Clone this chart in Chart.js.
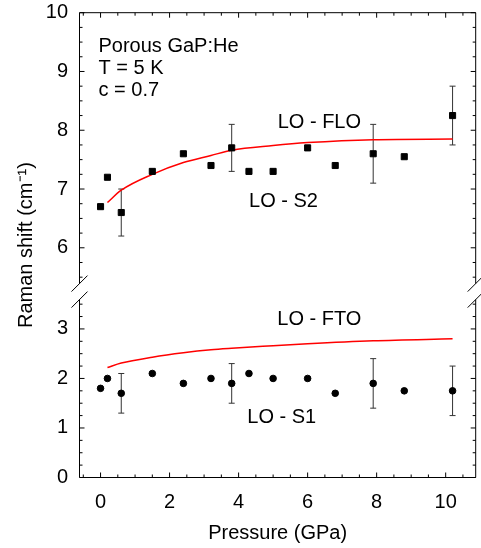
<!DOCTYPE html>
<html>
<head>
<meta charset="utf-8">
<script src="https://cdn.jsdelivr.net/npm/chart.js@4.4.0/dist/chart.umd.min.js"></script>
<style>html,body{margin:0;padding:0;background:#fff}canvas{display:block}</style>
</head>
<body>
<canvas id="chart" width="481" height="548"></canvas>
<script>
// measured points (pressure in GPa, shift in cm-1)
var pressure = [0, 0.2, 0.6, 1.5, 2.4, 3.2, 3.8, 4.3, 5.0, 6.0, 6.8, 7.9, 8.8, 10.2];
var shiftS2 = [6.7, 7.2, 6.6, 7.3, 7.6, 7.4, 7.7, 7.3, 7.3, 7.7, 7.4, 7.6, 7.55, 8.25];
var errS2 = [null, null, 0.4, null, null, null, 0.4, null, null, null, null, 0.5, null, 0.5];
var shiftS1 = [1.8, 2.0, 1.7, 2.1, 1.9, 2.0, 1.9, 2.1, 2.0, 2.0, 1.7, 1.9, 1.75, 1.75];
var errS1 = [null, null, 0.4, null, null, null, 0.4, null, null, null, null, 0.5, null, 0.5];

// calculated curves
var curvePressure = [0.2, 0.6, 1.5, 2.4, 3.2, 3.8, 5.0, 6.0, 7.9, 10.2];
var curveFLO = [6.77, 6.98, 7.25, 7.45, 7.57, 7.66, 7.74, 7.79, 7.84, 7.85];
var curveFTO = [2.22, 2.31, 2.43, 2.52, 2.58, 2.61, 2.66, 2.70, 2.76, 2.80];

var xTicks = [0, 2, 4, 6, 8, 10];
var yTopTicks = [6, 7, 8, 9, 10];
var yBotTicks = [0, 1, 2, 3];

var FONT = '"Liberation Sans", Arial, Helvetica, sans-serif';

function pts(xs, ys) {
    return xs.map(function (x, i) { return { x: x, y: ys[i] }; });
}

// text labels in data coordinates
var notes = [
    { text: 'Porous GaP:He', x: -0.06, y: 9.337, axis: 'yTop', align: 'left' },
    { text: 'T = 5 K', x: -0.06, y: 8.965, axis: 'yTop', align: 'left' },
    { text: 'c = 0.7', x: -0.06, y: 8.59, axis: 'yTop', align: 'left' },
    { text: 'LO - FLO', x: 6.34, y: 8.034, axis: 'yTop', align: 'center' },
    { text: 'LO - S2', x: 5.30, y: 6.70, axis: 'yTop', align: 'center' },
    { text: 'LO - FTO', x: 6.34, y: 3.08, axis: 'yBot', align: 'center' },
    { text: 'LO - S1', x: 5.25, y: 1.095, axis: 'yBot', align: 'center' }
];

var errorSets = [
    { values: shiftS2, errs: errS2, axis: 'yTop' },
    { values: shiftS1, errs: errS1, axis: 'yBot' }
];

function line(ctx, x1, y1, x2, y2) {
    ctx.beginPath();
    ctx.moveTo(x1, y1);
    ctx.lineTo(x2, y2);
    ctx.stroke();
}

var framePlugin = {
    id: 'frame',
    beforeDatasetsDraw: function (chart) {
        var ctx = chart.ctx, xs = chart.scales.x;
        ctx.save();
        ctx.strokeStyle = '#333';
        ctx.lineWidth = 1;
        errorSets.forEach(function (s) {
            var ys = chart.scales[s.axis];
            s.errs.forEach(function (e, i) {
                if (e == null) return;
                var px = xs.getPixelForValue(pressure[i]);
                var hi = ys.getPixelForValue(s.values[i] + e);
                var lo = ys.getPixelForValue(s.values[i] - e);
                line(ctx, px, hi, px, lo);
                line(ctx, px - 3, hi, px + 3, hi);
                line(ctx, px - 3, lo, px + 3, lo);
            });
        });
        ctx.restore();
    },
    afterDraw: function (chart) {
        var ctx = chart.ctx, a = chart.chartArea;
        var xs = chart.scales.x, yt = chart.scales.yTop, yb = chart.scales.yBot;
        var L = a.left, R = a.right, T = a.top, B = a.bottom;
        var mid = yt.bottom, g = 8;
        ctx.save();
        ctx.strokeStyle = '#000';
        ctx.lineWidth = 1;
        line(ctx, L, T, R, T);
        line(ctx, L, B, R, B);
        // side borders with axis-break marks
        [L, R].forEach(function (xx) {
            line(ctx, xx, T, xx, mid - g);
            line(ctx, xx, mid + g, xx, B);
            line(ctx, xx - g, mid, xx + g, mid - 2 * g);
            line(ctx, xx - g, mid + 2 * g, xx + g, mid);
        });
        // inward ticks
        var v, p, len;
        for (v = -0.5; v <= 10.5; v += 0.5) {
            p = xs.getPixelForValue(v);
            len = (v % 2 === 0) ? 5 : 3;
            line(ctx, p, B, p, B - len);
            line(ctx, p, T, p, T + len);
        }
        for (v = 5.5; v <= 10; v += 0.25) {
            p = yt.getPixelForValue(v);
            len = (v % 1 === 0) ? 5 : 3;
            line(ctx, L, p, L + len, p);
            line(ctx, R, p, R - len, p);
        }
        for (v = 0; v <= 3.5; v += 0.25) {
            p = yb.getPixelForValue(v);
            len = (v % 1 === 0) ? 5 : 3;
            line(ctx, L, p, L + len, p);
            line(ctx, R, p, R - len, p);
        }
        ctx.fillStyle = '#000';
        ctx.font = '20px ' + FONT;
        ctx.textBaseline = 'alphabetic';
        notes.forEach(function (n) {
            ctx.textAlign = n.align;
            ctx.fillText(n.text, xs.getPixelForValue(n.x), chart.scales[n.axis].getPixelForValue(n.y));
        });
        ctx.restore();
    }
};

function setTicks(list) {
    return function (scale) {
        scale.ticks = list.map(function (v) { return { value: v }; });
    };
}

function fitY(width) {
    return function (s) {
        s.width = width;
        s.paddingTop = 0;
        s.paddingBottom = 0;
    };
}

var tickFont = { family: FONT, size: 20 };

var ctx = document.getElementById('chart').getContext('2d');
var chart = new Chart(ctx, {
    type: 'scatter',
    data: {
        datasets: [{
            label: 'LO - S2',
            data: pts(pressure, shiftS2),
            yAxisID: 'yTop',
            pointStyle: 'rect',
            pointRadius: 4.3,
            backgroundColor: '#000',
            borderColor: '#000',
            borderWidth: 1
        },
        {
            label: 'LO - FLO',
            data: pts(curvePressure, curveFLO),
            yAxisID: 'yTop',
            showLine: true,
            pointRadius: 0,
            borderColor: '#ff0000',
            borderWidth: 1.5,
            cubicInterpolationMode: 'monotone'
        },
        {
            label: 'LO - S1',
            data: pts(pressure, shiftS1),
            yAxisID: 'yBot',
            pointStyle: 'circle',
            pointRadius: 3.3,
            backgroundColor: '#000',
            borderColor: '#000',
            borderWidth: 1
        },
        {
            label: 'LO - FTO',
            data: pts(curvePressure, curveFTO),
            yAxisID: 'yBot',
            showLine: true,
            pointRadius: 0,
            borderColor: '#ff0000',
            borderWidth: 1.5,
            cubicInterpolationMode: 'monotone'
        }]
    },
    options: {
        responsive: false,
        animation: false,
        layout: { padding: { left: 0, right: 4.3, top: 12.7, bottom: 0 } },
        plugins: { legend: { display: false }, tooltip: { enabled: false } },
        scales: {
            x: {
                type: 'linear',
                position: 'bottom',
                min: -0.61,
                max: 10.87,
                afterBuildTicks: setTicks(xTicks),
                afterFit: function (s) {
                    s.height = 70.5;
                    s.paddingLeft = 0;
                    s.paddingRight = 0;
                },
                grid: { display: false, drawTicks: false },
                border: { display: false },
                ticks: { font: tickFont, color: '#000', padding: 12.5, maxRotation: 0 },
                title: { display: true, text: 'Pressure (GPa)', font: tickFont, color: '#000', padding: { top: 10, bottom: 3 } }
            },
            yBot: {
                type: 'linear',
                position: 'left',
                stack: 'y',
                stackWeight: 186,
                weight: 0,
                min: 0,
                max: 3.754,
                afterBuildTicks: setTicks(yBotTicks),
                afterFit: fitY(39.5),
                grid: { display: false, drawTicks: false },
                border: { display: false },
                ticks: { font: tickFont, color: '#000', padding: 11.5 }
            },
            yTop: {
                type: 'linear',
                position: 'left',
                stack: 'y',
                stackWeight: 279,
                weight: 0,
                min: 5.255,
                max: 10,
                afterBuildTicks: setTicks(yTopTicks),
                afterFit: fitY(39.5),
                grid: { display: false, drawTicks: false },
                border: { display: false },
                ticks: { font: tickFont, color: '#000', padding: 11.5 }
            },
            yTitle: {
                type: 'linear',
                position: 'left',
                weight: 1,
                afterFit: fitY(40),
                grid: { display: false, drawTicks: false },
                border: { display: false },
                ticks: { display: false },
                title: { display: true, text: 'Raman shift (cm\u207B\u00B9)', font: tickFont, color: '#000', padding: { top: 14, bottom: 0 } }
            }
        }
    },
    plugins: [framePlugin]
});
</script>
</body>
</html>
